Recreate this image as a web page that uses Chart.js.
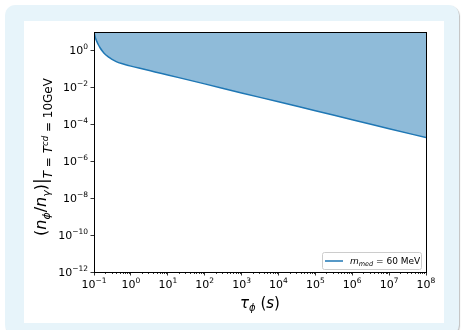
<!DOCTYPE html>
<html>
<head>
<meta charset="utf-8">
<script src="https://cdn.jsdelivr.net/npm/chart.js@4"></script>
<style>
  html, body { margin: 0; padding: 0; background: #fff; width: 462px; height: 330px; overflow: hidden; }
  .card {
    position: absolute; left: 5px; top: 5px; width: 454px; height: 330px;
    background: #e7f4fa; border-radius: 10px;
    box-shadow: 1px 1px 1px rgba(0,0,0,0.25);
  }
  .panel { position: absolute; left: 24px; top: 21px; width: 420px; height: 302px; background: #fff; }
  canvas { display: block; }
</style>
</head>
<body>
<div class="card"></div>
<div class="panel"><canvas id="chart" width="420" height="302"></canvas></div>
<script>
// lifetime tau_phi (s) and abundance ratio
const tauValues = [0.1, 0.105, 0.11, 0.118, 0.13, 0.146, 0.17, 0.2, 0.25, 0.3, 0.4, 0.56, 0.8, 1, 1.29, 2, 4.5, 10, 100, 1e3, 1e4, 1e5, 1e6, 1e7, 1e8];
const ratioValues = [10, 6.5, 4.6, 3.2, 2.1, 1.4, 0.9, 0.62, 0.44, 0.34, 0.25, 0.195, 0.16, 0.142, 0.125, 0.102, 0.069, 0.047, 0.0155, 5.0e-3, 1.66e-3, 5.4e-4, 1.78e-4, 5.8e-5, 1.9e-5];

const xTicks = [0.1, 1, 10, 100, 1e3, 1e4, 1e5, 1e6, 1e7, 1e8];
const yTicks = [1e-12, 1e-10, 1e-8, 1e-6, 1e-4, 1e-2, 1];

const FONT = "'DejaVu Sans', sans-serif";

// draw a run of [text, font, dy] pieces starting at x
function drawRun(ctx, parts, x, y) {
  parts.forEach(p => {
    ctx.font = p[1];
    ctx.fillText(p[0], x, y + (p[2] || 0));
    x += ctx.measureText(p[0]).width;
  });
}
function runWidth(ctx, parts) {
  let w = 0;
  parts.forEach(p => { ctx.font = p[1]; w += ctx.measureText(p[0]).width; });
  return w;
}
// "10" with a raised exponent, like matplotlib's log labels
function powParts(v) {
  const e = Math.round(Math.log10(v));
  return [
    ['10', '11px ' + FONT, 0],
    [(e < 0 ? '\u2212' : '') + Math.abs(e), '7.5px ' + FONT, -5]
  ];
}

const extras = {
  id: 'extras',
  afterDraw(chart) {
    const ctx = chart.ctx;
    const a = chart.chartArea;
    const xs = chart.scales.x;
    const ys = chart.scales.y;
    ctx.save();

    // frame (spines)
    ctx.strokeStyle = '#000';
    ctx.lineWidth = 1;
    ctx.strokeRect(Math.round(a.left) + 0.5, Math.round(a.top) + 0.5, Math.round(a.right - a.left), Math.round(a.bottom - a.top));

    // minor ticks on x
    ctx.lineWidth = 0.8;
    ctx.beginPath();
    for (let k = -1; k < 8; k++) {
      for (let m = 2; m <= 9; m++) {
        const px = Math.round(xs.getPixelForValue(m * Math.pow(10, k))) + 0.5;
        ctx.moveTo(px, a.bottom);
        ctx.lineTo(px, a.bottom + 2);
      }
    }
    ctx.stroke();

    // tick labels
    ctx.fillStyle = '#000';
    ctx.textBaseline = 'alphabetic';
    ctx.textAlign = 'left';
    xTicks.forEach(v => {
      const parts = powParts(v);
      const px = xs.getPixelForValue(v);
      drawRun(ctx, parts, px - runWidth(ctx, parts) / 2, a.bottom + 16);
    });
    yTicks.forEach(v => {
      const parts = powParts(v);
      const py = ys.getPixelForValue(v);
      drawRun(ctx, parts, a.left - 6 - runWidth(ctx, parts), py + 4);
    });

    // legend box
    const lx = 298, ly = 231, lw = 99, lh = 17;
    ctx.fillStyle = 'rgba(255,255,255,0.8)';
    ctx.strokeStyle = '#cccccc';
    ctx.lineWidth = 1;
    ctx.beginPath();
    ctx.roundRect(lx + 0.5, ly + 0.5, lw, lh, 2);
    ctx.fill();
    ctx.stroke();
    ctx.strokeStyle = '#1f77b4';
    ctx.lineWidth = 1.5;
    ctx.beginPath();
    ctx.moveTo(lx + 3, ly + 9);
    ctx.lineTo(lx + 21, ly + 9);
    ctx.stroke();
    ctx.fillStyle = '#000';
    drawRun(ctx, [
      ['m', 'italic 9px ' + FONT, 0],
      ['med', 'italic 6.5px ' + FONT, 2],
      [' = 60 MeV', '9px ' + FONT, 0]
    ], lx + 28, ly + 12);

    // x title
    const xParts = [
      ['τ', 'italic 15px ' + FONT, 0],
      ['ϕ', 'italic 10px ' + FONT, 3],
      [' (', '15px ' + FONT, 0],
      ['s', 'italic 15px ' + FONT, 0],
      [')', '15px ' + FONT, 0]
    ];
    const cx = (a.left + a.right) / 2;
    drawRun(ctx, xParts, cx - runWidth(ctx, xParts) / 2, 287);

    // y title, rotated
    const yParts = [
      ['(', '16px ' + FONT, 0],
      ['n', 'italic 16px ' + FONT, 0],
      ['ϕ', 'italic 11px ' + FONT, 3.5],
      ['/', '16px ' + FONT, 0],
      ['n', 'italic 16px ' + FONT, 0],
      ['γ', 'italic 11px ' + FONT, 3.5],
      [')', '16px ' + FONT, 0],
      ['|', '17px ' + FONT, 1],
      ['T', 'italic 12px ' + FONT, 6],
      [' = ', '12px ' + FONT, 6],
      ['T', 'italic 12px ' + FONT, 6],
      ['cd', 'italic 8.5px ' + FONT, 1.5],
      [' = 10GeV', '12px ' + FONT, 6]
    ];
    const cy = (a.top + a.bottom) / 2 + 5;
    ctx.translate(22, cy);
    ctx.rotate(-Math.PI / 2);
    drawRun(ctx, yParts, -runWidth(ctx, yParts) / 2, 0);
    ctx.restore();
  }
};

new Chart(document.getElementById('chart'), {
  type: 'line',
  data: {
    labels: tauValues,
    datasets: [{
      label: 'm_med = 60 MeV',
      data: tauValues.map((t, i) => ({ x: t, y: ratioValues[i] })),
      borderColor: '#1f77b4',
      borderWidth: 1.5,
      backgroundColor: 'rgba(31,119,180,0.5)',
      fill: 'end',
      pointRadius: 0,
      cubicInterpolationMode: 'monotone'
    }]
  },
  options: {
    responsive: false,
    animation: false,
    events: [],
    layout: { padding: { top: 11, right: 18, left: 0, bottom: 0 } },
    plugins: { legend: { display: false }, tooltip: { enabled: false } },
    scales: {
      x: {
        type: 'logarithmic',
        min: 0.1,
        max: 1e8,
        afterBuildTicks: s => { s.ticks = xTicks.map(v => ({ value: v })); },
        afterFit: s => { s.height = 51; },
        border: { display: false },
        grid: { drawOnChartArea: false, drawTicks: true, tickLength: 3.5, color: '#000', lineWidth: 0.8 },
        ticks: { display: false, autoSkip: false }
      },
      y: {
        type: 'logarithmic',
        min: 1e-12,
        max: 10,
        afterBuildTicks: s => { s.ticks = yTicks.map(v => ({ value: v })); },
        afterFit: s => { s.width = 70; },
        border: { display: false },
        grid: { drawOnChartArea: false, drawTicks: true, tickLength: 3.5, color: '#000', lineWidth: 0.8 },
        ticks: { display: false, autoSkip: false }
      }
    }
  },
  plugins: [extras]
});
</script>
</body>
</html>
